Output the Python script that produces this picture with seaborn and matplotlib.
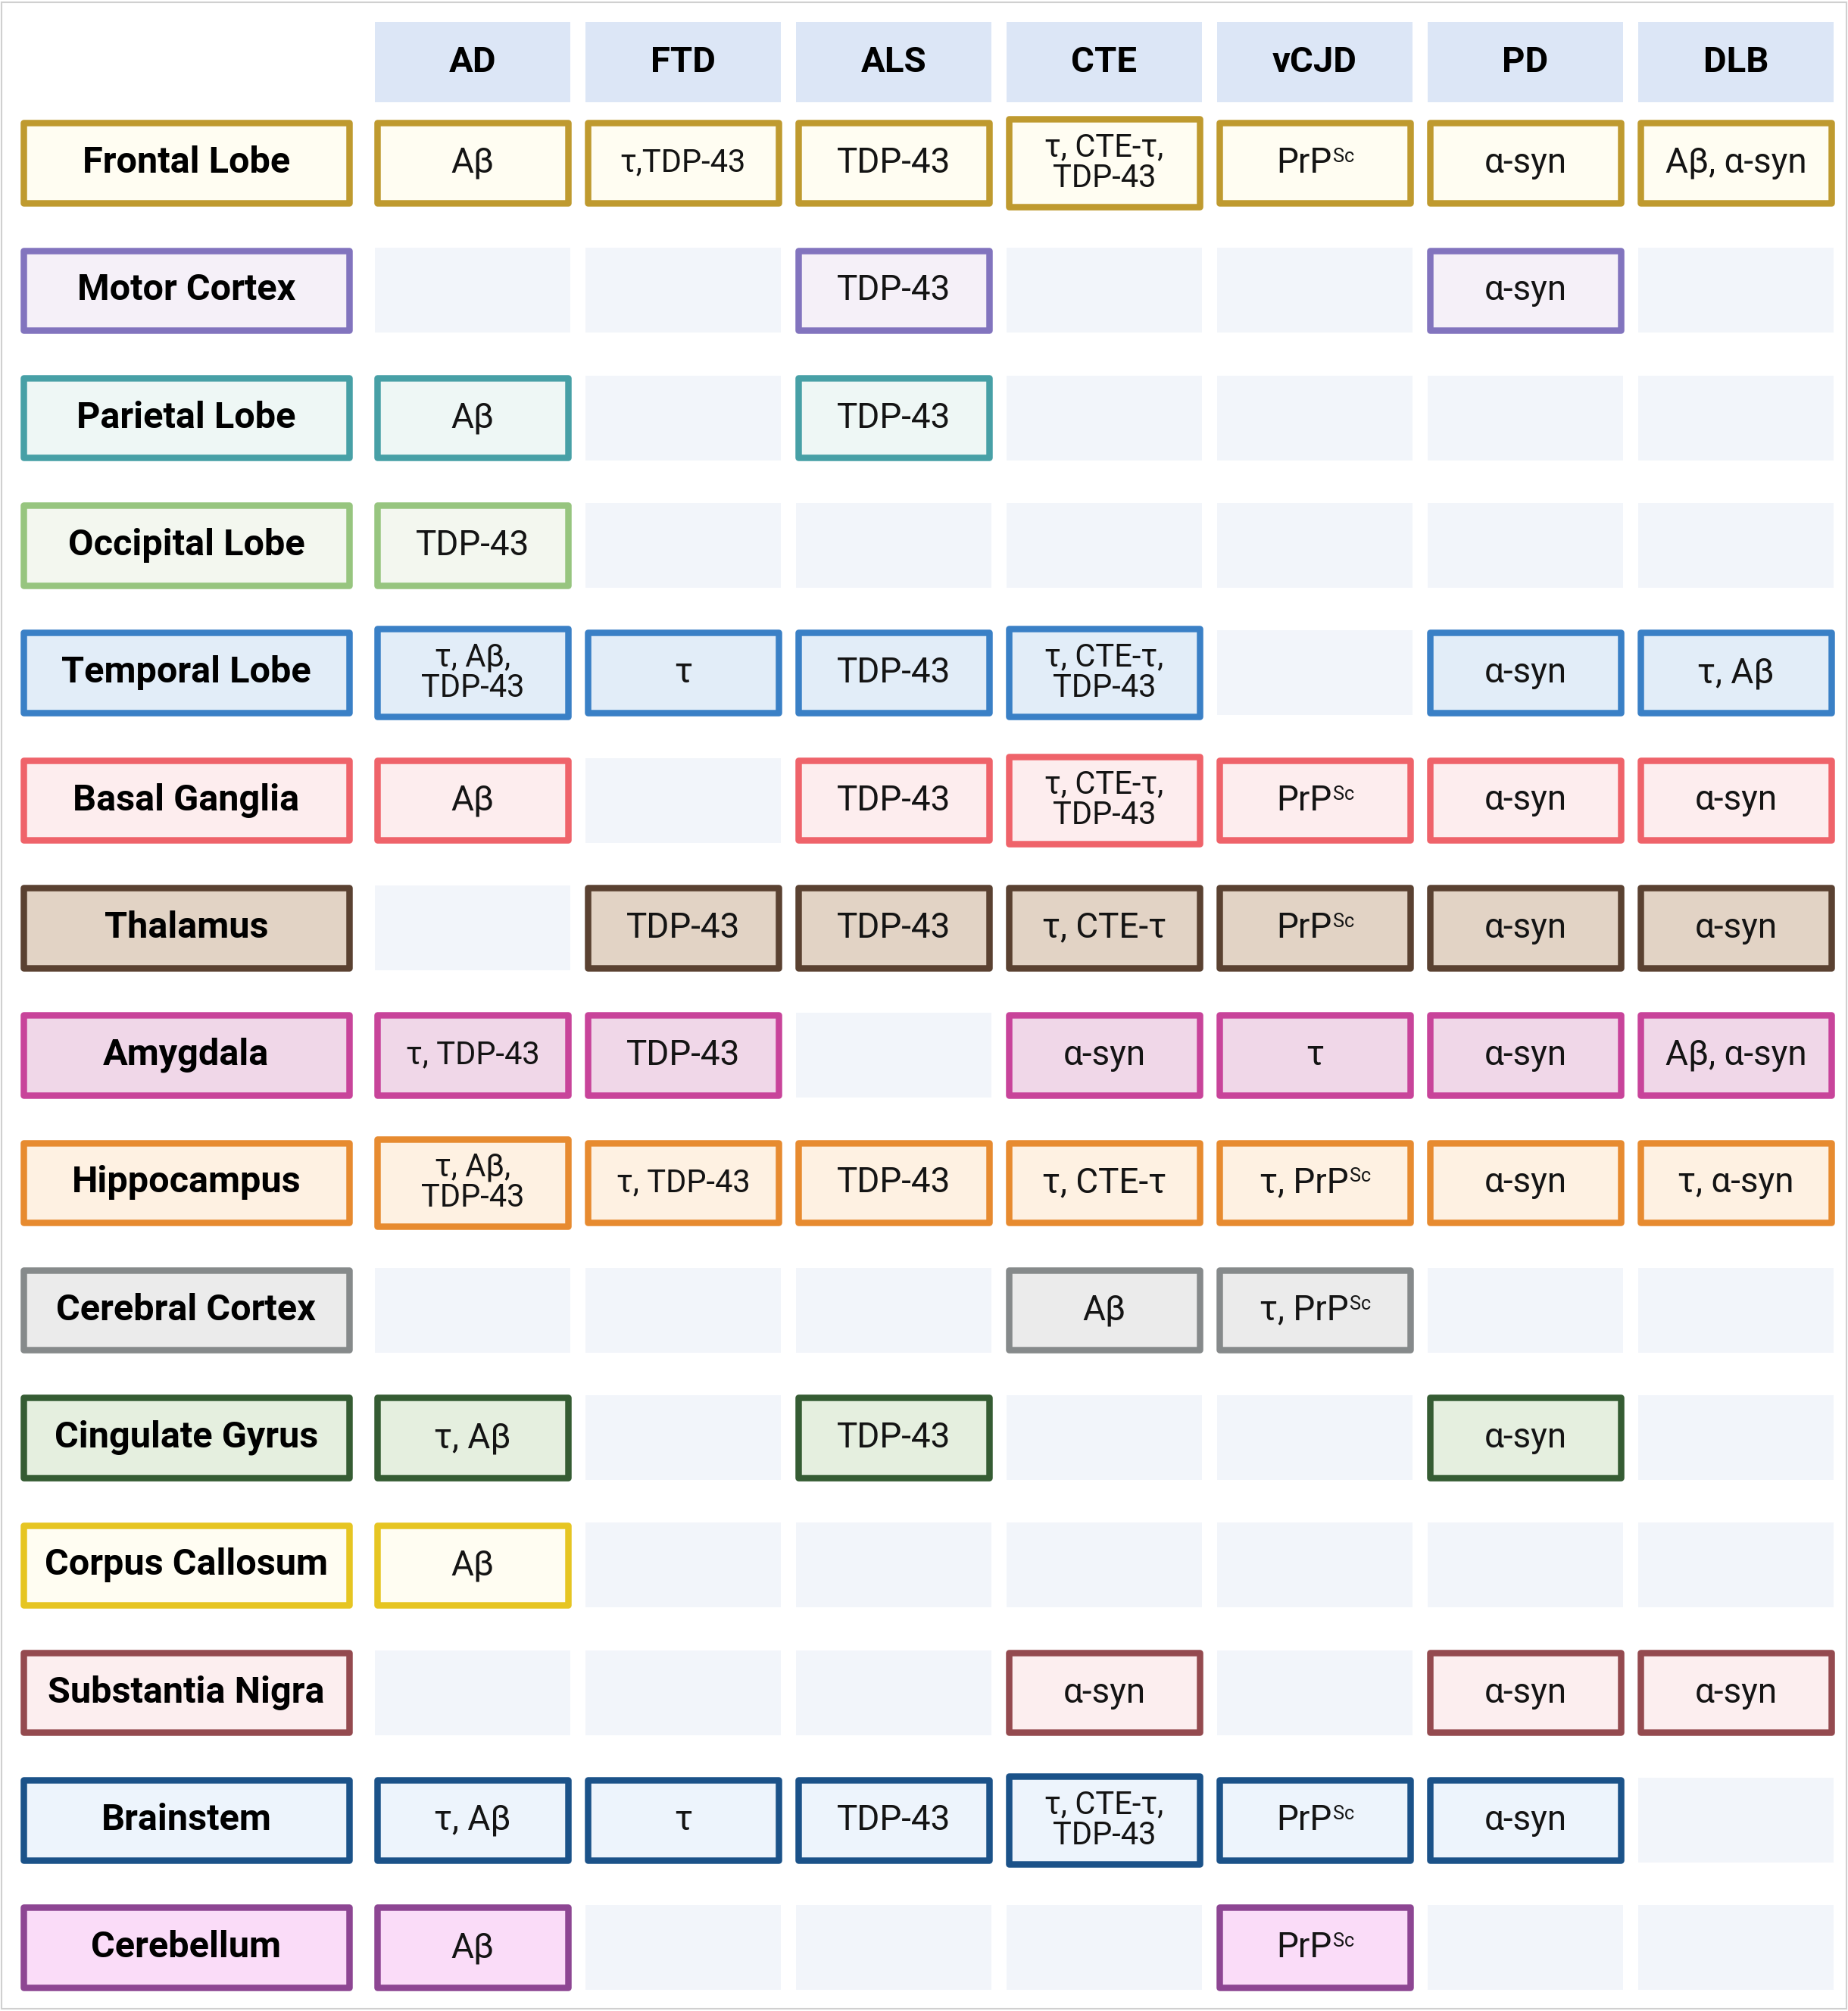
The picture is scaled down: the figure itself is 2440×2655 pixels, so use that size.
import matplotlib
matplotlib.use("Agg")
import matplotlib.pyplot as plt
from matplotlib.patches import Rectangle
from matplotlib.transforms import ScaledTranslation
import pandas as pd
import seaborn as sns

# Table content: which protein aggregates show up in which brain region, per disease
diseases = ["AD", "FTD", "ALS", "CTE", "vCJD", "PD", "DLB"]
regions = ["Frontal Lobe", "Motor Cortex", "Parietal Lobe", "Occipital Lobe", "Temporal Lobe",
           "Basal Ganglia", "Thalamus", "Amygdala", "Hippocampus", "Cerebral Cortex",
           "Cingulate Gyrus", "Corpus Callosum", "Substantia Nigra", "Brainstem", "Cerebellum"]

PRP = "PrP^Sc"              # "^" marks the superscript part
TAU3 = "τ, CTE-τ,\nTDP-43"

ad_cells = ["Aβ", "", "Aβ", "TDP-43", "τ, Aβ,\nTDP-43", "Aβ", "", "τ, TDP-43",
            "τ, Aβ,\nTDP-43", "", "τ, Aβ", "Aβ", "", "τ, Aβ", "Aβ"]
ftd_cells = ["τ,TDP-43", "", "", "", "τ", "", "TDP-43", "TDP-43",
             "τ, TDP-43", "", "", "", "", "τ", ""]
als_cells = ["TDP-43", "TDP-43", "TDP-43", "", "TDP-43", "TDP-43", "TDP-43", "",
             "TDP-43", "", "TDP-43", "", "", "TDP-43", ""]
cte_cells = [TAU3, "", "", "", TAU3, TAU3, "τ, CTE-τ", "α-syn",
             "τ, CTE-τ", "Aβ", "", "", "α-syn", TAU3, ""]
vcjd_cells = [PRP, "", "", "", "", PRP, PRP, "τ",
              "τ, " + PRP, "τ, " + PRP, "", "", "", PRP, PRP]
pd_cells = ["α-syn", "α-syn", "", "", "α-syn", "α-syn", "α-syn", "α-syn",
            "α-syn", "", "α-syn", "", "α-syn", "α-syn", ""]
dlb_cells = ["Aβ, α-syn", "", "", "", "τ, Aβ", "α-syn", "α-syn", "Aβ, α-syn",
             "τ, α-syn", "", "", "", "α-syn", "", ""]

border_colors = ["#BF9A2F", "#8274BE", "#47A0A6", "#97C57F", "#3A80C6",
                 "#EF636A", "#5A4131", "#C8449A", "#E78B30", "#868A8B",
                 "#355C33", "#E6C522", "#944A4F", "#1B5289", "#8D4693"]
fill_colors = ["#FFFDF2", "#F5F0F8", "#EEF7F5", "#F3F7EF", "#E2EDF8",
               "#FDEDEE", "#E2D3C5", "#F0D7E8", "#FEF1E2", "#EBEBEB",
               "#E5EFDF", "#FFFDF2", "#FCEEEF", "#EDF4FC", "#FADCF8"]

table = pd.DataFrame({"AD": ad_cells, "FTD": ftd_cells, "ALS": als_cells, "CTE": cte_cells,
                      "vCJD": vcjd_cells, "PD": pd_cells, "DLB": dlb_cells}, index=regions)

sns.set_theme(style="white")
plt.rcParams["font.family"] = ["Roboto", "DejaVu Sans"]

# layout in pixels (figure is 2440 x 2655 at 100 dpi)
W, H = 2440, 2655
PX, PY = 278.0, 168.3      # column / row pitch
X0, Y0 = 624.0, 215.0      # centre of first cell
LW_PX = 8.5                # border thickness
HEADER_ROW = -0.79
LABEL_COL = -1.36

fig = plt.figure(figsize=(W / 100, H / 100), dpi=100)
ax = fig.add_axes([0, 0, 1, 1])
ax.set_xlim(-X0 / PX, (W - X0) / PX)
ax.set_ylim((H - Y0) / PY, -Y0 / PY)
ax.axis("off")


def box(xc, yc, w_px, h_px, face, edge=None):
    """Draw a cell centred on (xc, yc); sizes given as outer pixel extents."""
    if edge is None:
        r = Rectangle((xc - w_px / 2 / PX, yc - h_px / 2 / PY), w_px / PX, h_px / PY,
                      facecolor=face, edgecolor="none", zorder=1)
    else:
        w = (w_px - LW_PX) / PX
        h = (h_px - LW_PX) / PY
        r = Rectangle((xc - w / 2, yc - h / 2), w, h, facecolor=face, edgecolor=edge,
                      linewidth=LW_PX * 0.72, joinstyle="round", zorder=2)
    ax.add_patch(r)


def cell_text(x, y, s, fs):
    if "^" not in s:
        ax.text(x, y, s, ha="center", va="center", fontsize=fs, linespacing=1.0,
                color="#141414", zorder=3)
        return
    base, sup = s.split("^")
    sup_fs = fs * 0.55
    shift = ScaledTranslation(-0.55 * sup_fs / 72, 0, fig.dpi_scale_trans)
    t = ax.text(x, y, base, ha="center", va="center", fontsize=fs, color="#141414",
                transform=ax.transData + shift, zorder=3)
    ax.annotate(sup, xy=(1, 1), xycoords=t, xytext=(1, -1.5), textcoords="offset points",
                ha="left", va="top", fontsize=sup_fs, color="#141414", zorder=3)


# column headers
for j, name in enumerate(diseases):
    box(j, HEADER_ROW, 258, 106, "#DCE6F6")
    ax.text(j, HEADER_ROW, name, ha="center", va="center", fontsize=34,
            fontweight="bold", color="#000000", zorder=3)

# row labels and cells
for i, region in enumerate(regions):
    box(LABEL_COL, i, 438, 114, fill_colors[i], border_colors[i])
    ax.text(LABEL_COL, i, region, ha="center", va="center", fontsize=35,
            fontweight="bold", color="#000000", zorder=3)
    for j, name in enumerate(diseases):
        s = table.loc[region, name]
        if not s:
            box(j, i, 258, 112, "#F2F5FA")
            continue
        two_lines = "\n" in s
        box(j, i, 260, 124 if two_lines else 114, fill_colors[i], border_colors[i])
        if two_lines:
            fs = 30
        elif s in ("τ, TDP-43", "τ,TDP-43"):
            fs = 30
        else:
            fs = 33
        cell_text(j, i, s, fs)

# thin grey frame around the whole figure
ax.add_patch(Rectangle((0.001, 0.001), 0.998, 0.998, transform=ax.transAxes,
                       facecolor="none", edgecolor="#D0D0D0", linewidth=1.5,
                       clip_on=False, zorder=5))

fig.savefig("out.png", dpi=100)
plt.close(fig)
